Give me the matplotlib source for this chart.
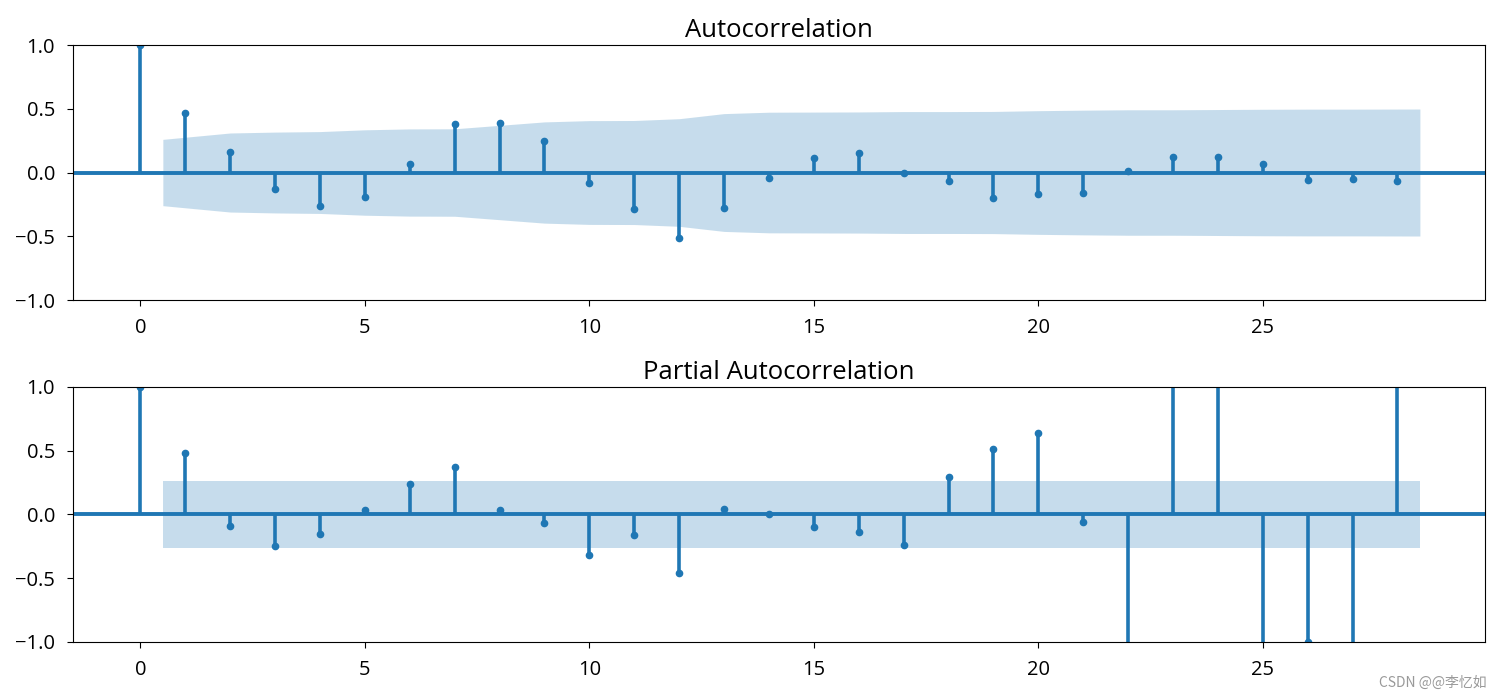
"""ACF / PACF stem plots with confidence bands."""

import matplotlib
matplotlib.use("Agg")
import matplotlib.pyplot as plt
import numpy as np

# ---- data ----
lags = list(range(29))

acf_values = [1.0, 0.47, 0.16, -0.13, -0.26, -0.19, 0.07, 0.38, 0.39, 0.25,
              -0.08, -0.29, -0.51, -0.28, -0.04, 0.11, 0.15, 0.0, -0.07, -0.20,
              -0.17, -0.16, 0.01, 0.12, 0.12, 0.07, -0.06, -0.05, -0.07]

# confidence half-width for lags 1..28
acf_band = [0.26, 0.31, 0.317, 0.321, 0.335, 0.342, 0.343, 0.37, 0.397, 0.407,
            0.408, 0.422, 0.462, 0.473, 0.474, 0.475, 0.478, 0.478, 0.479, 0.485,
            0.489, 0.492, 0.492, 0.494, 0.496, 0.497, 0.497, 0.498]

pacf_values = [1.0, 0.48, -0.09, -0.25, -0.155, 0.037, 0.24, 0.375, 0.037, -0.068,
               -0.32, -0.16, -0.46, 0.045, 0.0, -0.097, -0.136, -0.24, 0.29, 0.515,
               0.635, -0.057, -1.3, 1.4, 1.2, -1.5, -1.0, -1.2, 1.3]

pacf_band = [0.26] * 28

COLOR = "#1f77b4"


def draw_corr(ax, values, band, title):
    x = np.array(lags, dtype=float)
    band_x = x[1:].copy()
    band_x[0] -= 0.5
    band_x[-1] += 0.5
    band = np.array(band)
    ax.fill_between(band_x, -band, band, color=COLOR, alpha=0.25, linewidth=0)
    ax.axhline(0, color=COLOR, linewidth=2.8)
    ax.vlines(x, 0, values, color=COLOR, linewidth=2.6)
    ax.plot(x, values, "o", color=COLOR, markersize=4.5, linestyle="None")
    ax.set_xlim(-1.5, 29.95)
    ax.set_ylim(-1.0, 1.0)
    ax.set_yticks([-1.0, -0.5, 0.0, 0.5, 1.0])
    ax.set_xticks([0, 5, 10, 15, 20, 25])
    ax.tick_params(labelsize=14.5, length=4)
    ax.tick_params(axis="x", pad=9)
    ax.tick_params(axis="y", pad=9)
    ax.set_title(title, fontsize=18.5)


plt.rcParams["font.family"] = ["Open Sans", "Noto Sans CJK SC", "DejaVu Sans"]

fig = plt.figure(figsize=(15, 7), dpi=100)
ax1 = fig.add_axes([0.0487, 0.5714, 0.9413, 0.3643])
ax2 = fig.add_axes([0.0487, 0.0829, 0.9413, 0.3643])

draw_corr(ax1, acf_values, acf_band, "Autocorrelation")
draw_corr(ax2, pacf_values, pacf_band, "Partial Autocorrelation")

fig.text(0.991, 0.024, "CSDN @@李忆如", ha="right", va="center", fontsize=10,
         color="#999999", family=["Noto Sans CJK SC", "DejaVu Sans"])

fig.savefig("out.png", dpi=100)
plt.close(fig)
